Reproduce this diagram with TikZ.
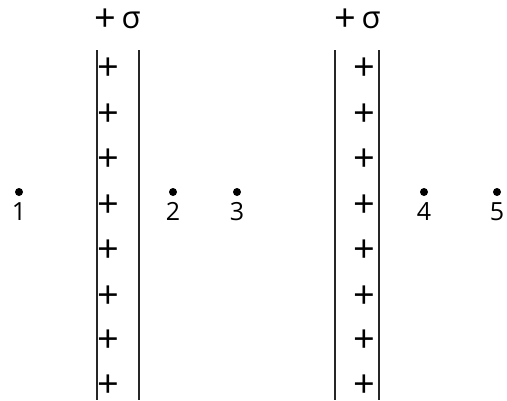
\documentclass[tikz,border=0pt]{standalone}
\usepackage{fontspec}
\setmainfont{Open Sans}
\begin{document}
\begin{tikzpicture}[x=1pt,y=-1pt,
  plate/.style={line width=1.8pt,draw=black!85},
  chg/.style={font=\fontsize{38}{38}\selectfont,inner sep=0pt},
  sig/.style={font=\fontsize{31}{31}\selectfont,inner sep=0pt},
  lbl/.style={font=\fontsize{25}{25}\selectfont,inner sep=0pt,anchor=north},
  pt/.style={circle,fill=black,inner sep=0pt,minimum size=8pt}]
\useasboundingbox (0,0) rectangle (507,400);
% plates
\coordinate (a1) at (97,50); \coordinate (a2) at (97,400);
\coordinate (b1) at (139,50); \coordinate (b2) at (139,400);
\coordinate (c1) at (335,50); \coordinate (c2) at (335,400);
\coordinate (d1) at (379,50); \coordinate (d2) at (379,400);
\draw[plate] (a1) -- (a2);
\draw[plate] (b1) -- (b2);
\draw[plate] (c1) -- (c2);
\draw[plate] (d1) -- (d2);
% sigma labels
\node[chg] (s1p) at (105,20) {+};
\node[sig] (s1) at (131,20) {σ};
\node[chg] (s2p) at (345,20) {+};
\node[sig] (s2) at (371,20) {σ};
% charges
\foreach \y [count=\i] in {69,115,160,206,251,297,341,386}{
  \node[chg] (p\i) at (108,\y) {+};
  \node[chg] (q\i) at (364,\y) {+};
}
% points
\foreach \x/\n in {19/1,173/2,237/3,424/4,497/5}{
  \node[pt] (d\n) at (\x,192) {};
  \node[lbl] (l\n) at (\x,202) {\n};
}
\end{tikzpicture}
\end{document}
